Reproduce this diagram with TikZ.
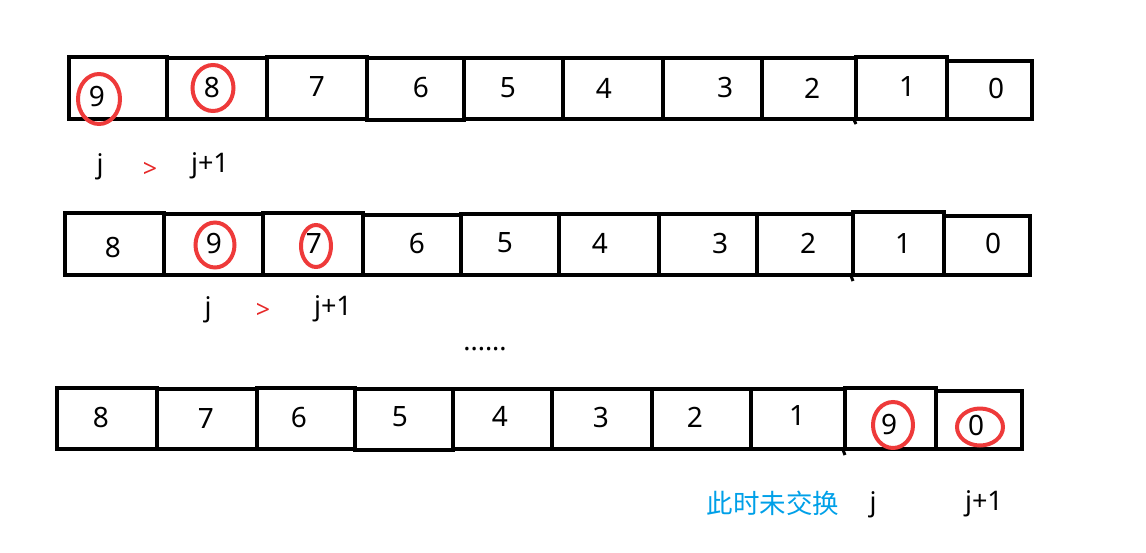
\documentclass[tikz,border=0pt]{standalone}
\usepackage{fontspec}
\setmainfont{Noto Sans}
\newfontfamily\cjk{Noto Sans CJK SC}
\usetikzlibrary{shapes.geometric}
\definecolor{ringred}{RGB}{238,58,58}
\definecolor{noteblue}{RGB}{0,160,232}
\definecolor{gtred}{RGB}{230,40,40}
\tikzset{
  cellbox/.style={draw=black, line width=3.4pt, inner sep=0pt},
  num/.style={inner sep=0pt, font=\fontsize{28}{30}\selectfont},
  ring/.style={draw=ringred, line width=4pt, ellipse, inner sep=0pt},
  lbl/.style={inner sep=0pt, font=\fontsize{27}{30}\selectfont},
  gt/.style={inner sep=0pt, text=gtred, font=\fontsize{25}{28}\selectfont},
}
\begin{document}
\begin{tikzpicture}[x=1pt,y=-1pt]
\useasboundingbox (0,0) rectangle (1146,552);
% ---------- row 1 ----------
\foreach \a/\b/\t/\bt [count=\i] in {69/167/57/119,167/267/58/119,267/367/57/119,367/464/58/120,464/563/58/119,563/663/58/119,663/762/58/119,762/856/58/119,856/947/57/119,947/1032/61/119}
  \node[cellbox, minimum width={\b-\a}, minimum height={\bt-\t}] (ra\i) at ({(\a+\b)/2},{(\t+\bt)/2}) {};
\coordinate (tickA) at (856,124);
\draw[line width=3pt] (ra9.south west) -- (tickA);
\foreach \x/\y/\v [count=\i] in {97/97/9,212/88/8,317/87/7,421/88/6,508/88/5,604/88/4,725/88/3,812/88/2,907/87/1,996/88/0}
  \node[num] (na\i) at (\x,\y) {\v};
\node[ring, minimum width=42pt, minimum height=50pt] (ca1) at (99,99) {};
\node[ring, minimum width=41pt, minimum height=46pt] (ca2) at (213,88) {};
\node[lbl] (ja) at (100,167) {j};
\node[gt] (ga) at (150,170) {>};
\node[lbl] (jpa) at (210,166) {j+1};
% ---------- row 2 ----------
\foreach \a/\b/\t/\bt [count=\i] in {65/164/213/275,164/263/214/275,263/363/213/275,363/461/215/275,461/559/214/275,559/659/214/275,659/757/214/275,757/853/214/275,853/944/212/275,944/1030/216/275}
  \node[cellbox, minimum width={\b-\a}, minimum height={\bt-\t}] (rb\i) at ({(\a+\b)/2},{(\t+\bt)/2}) {};
\coordinate (tickB) at (853,281);
\draw[line width=3pt] (rb9.south west) -- (tickB);
\foreach \x/\y/\v [count=\i] in {113/247/8,214/243/9,314/243/7,417/243/6,505/243/5,600/243/4,720/243/3,808/243/2,903/243/1,993/243/0}
  \node[num] (nb\i) at (\x,\y) {\v};
\node[ring, minimum width=39pt, minimum height=45pt] (cb2) at (215,245) {};
\node[ring, minimum width=30pt, minimum height=42pt] (cb3) at (316,246) {};
\node[lbl] (jb) at (208,310) {j};
\node[gt] (gb) at (263,311) {>};
\node[lbl] (jpb) at (333,309) {j+1};
\node[lbl] (dots) at (485,349) {......};
% ---------- row 3 ----------
\foreach \a/\b/\t/\bt [count=\i] in {57/157/388/449,157/257/389/449,257/355/388/449,355/453/389/450,453/552/389/449,552/652/389/449,652/751/389/449,751/845/389/449,845/936/388/449,936/1022/391/449}
  \node[cellbox, minimum width={\b-\a}, minimum height={\bt-\t}] (rc\i) at ({(\a+\b)/2},{(\t+\bt)/2}) {};
\coordinate (tickC) at (845,455);
\draw[line width=3pt] (rc9.south west) -- (tickC);
\foreach \x/\y/\v [count=\i] in {101/417/8,206/418/7,299/417/6,400/417/5,500/416/4,601/417/3,695/417/2,797/415/1,889/424/9,976/425/0}
  \node[num] (nc\i) at (\x,\y) {\v};
\node[ring, minimum width=40pt, minimum height=46pt] (cc9) at (893,425) {};
\node[ring, minimum width=46pt, minimum height=37pt] (cc10) at (980,427) {};
\node[lbl, text=noteblue, font=\cjk\fontsize{26.5}{30}\selectfont] (note) at (773,503) {此时未交换};
\node[lbl] (jc) at (873,505) {j};
\node[lbl] (jpc) at (984,504) {j+1};
\end{tikzpicture}
\end{document}
